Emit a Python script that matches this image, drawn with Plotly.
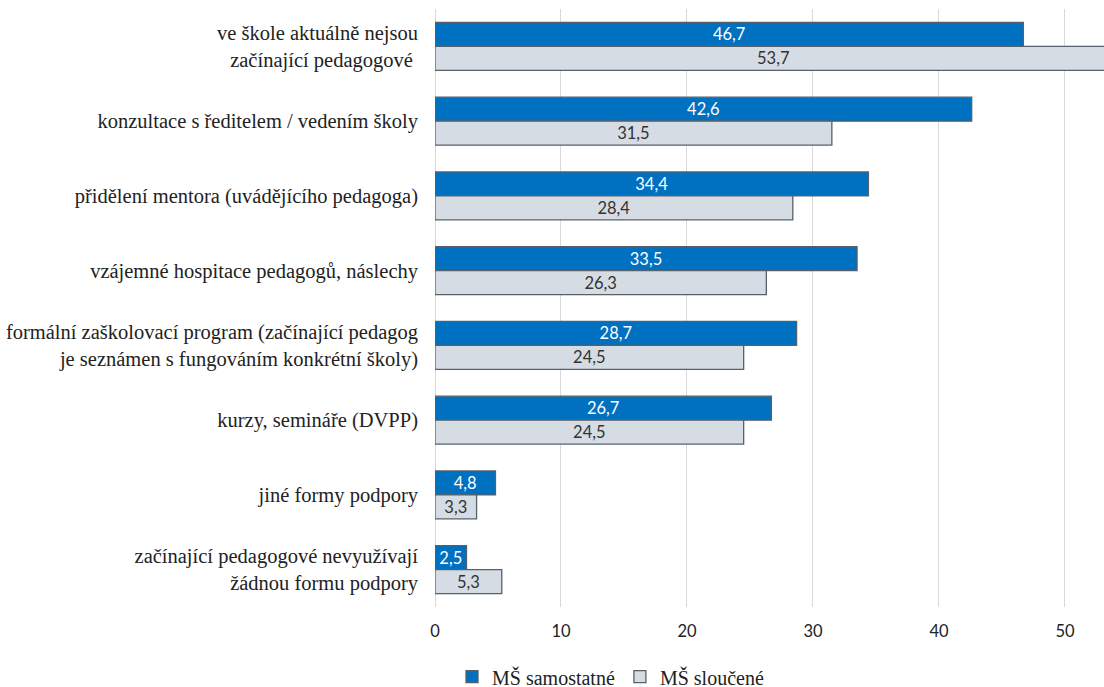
import plotly.graph_objects as go

categories = [
    "ve škole aktuálně nejsou<br>začínající pedagogové ",
    "konzultace s ředitelem / vedením školy",
    "přidělení mentora (uvádějícího pedagoga)",
    "vzájemné hospitace pedagogů, náslechy",
    "formální zaškolovací program (začínající pedagog<br>je seznámen s fungováním konkrétní školy)",
    "kurzy, semináře (DVPP)",
    "jiné formy podpory",
    "začínající pedagogové nevyužívají<br>žádnou formu podpory",
]
samostatne = [46.7, 42.6, 34.4, 33.5, 28.7, 26.7, 4.8, 2.5]
sloucene = [53.7, 31.5, 28.4, 26.3, 24.5, 24.5, 3.3, 5.3]
series_names = ["MŠ samostatné", "MŠ sloučené"]
x_ticks = [0, 10, 20, 30, 40, 50]

serif = "Liberation Serif"
sans = "Lato"
edge = "#56616c"

fig = go.Figure()
fig.add_trace(go.Bar(
    y=categories, x=samostatne, orientation="h", name=series_names[0],
    marker=dict(color="#0070C0", line=dict(color=edge, width=1.3)),
    texttemplate="%{x:.1f}", textposition="inside", insidetextanchor="middle",
    textangle=0, constraintext="none",
    textfont=dict(family=sans, size=16.5, color="white"),
))
fig.add_trace(go.Bar(
    y=categories, x=sloucene, orientation="h", name=series_names[1],
    marker=dict(color="#D6DCE4", line=dict(color=edge, width=1.3)),
    texttemplate="%{x:.1f}", textposition="inside", insidetextanchor="middle",
    textangle=0, constraintext="none",
    textfont=dict(family=sans, size=16.5, color="#333333"),
))

fig.update_layout(
    width=1104, height=687,
    margin=dict(l=435, r=0, t=9, b=80),
    barmode="group", bargap=0.36, bargroupgap=0,
    separators=", ",
    plot_bgcolor="white", paper_bgcolor="white",
    legend=dict(
        orientation="h", xref="container", yref="container",
        x=0.553, y=0.015, xanchor="center", yanchor="middle",
        font=dict(family=serif, size=20, color="#222222"),
        itemwidth=30, traceorder="normal",
    ),
    showlegend=True,
)
fig.update_xaxes(
    range=[0, 53.1], tickvals=x_ticks, showgrid=True,
    gridcolor="#d9d9d9", gridwidth=1.3, zeroline=True,
    zerolinecolor="#d9d9d9", zerolinewidth=1.3,
    showline=False, ticks="", ticklabelstandoff=12,
    tickfont=dict(family=sans, size=16.5, color="#222222"),
)
fig.update_yaxes(
    autorange="reversed", showgrid=False, showline=False, ticks="",
    ticklabelstandoff=16,
    tickfont=dict(family=serif, size=20.5, color="#222222"),
)

fig.write_html("out.html")
